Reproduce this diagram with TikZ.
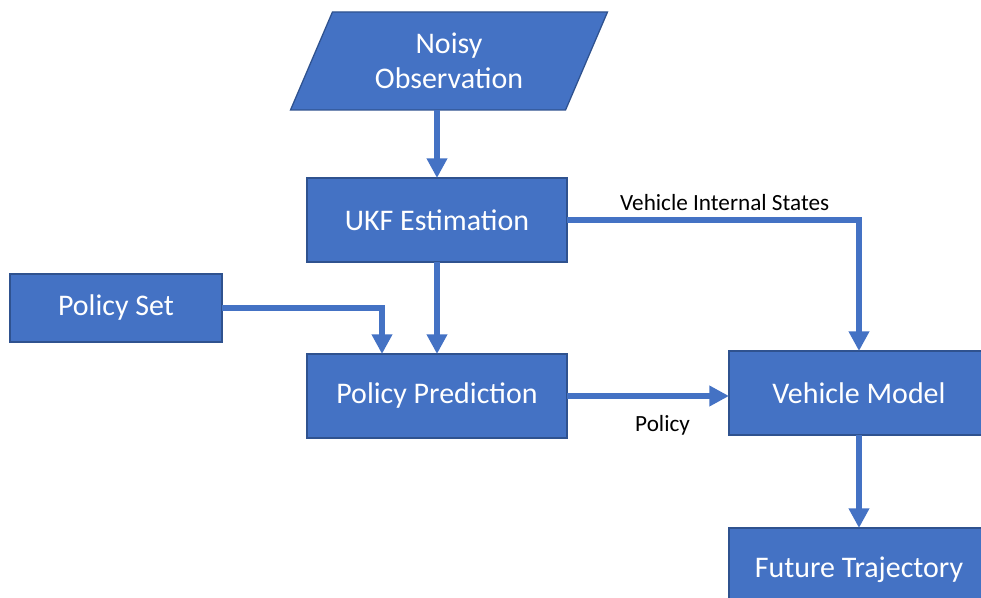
\documentclass[tikz,border=0pt]{standalone}
\usepackage{fontspec}
\setmainfont{Carlito}
\usepackage{tikz}
\usetikzlibrary{positioning}
\usetikzlibrary{calc}
\usetikzlibrary{arrows.meta}
\usetikzlibrary{shapes.geometric}
\usepackage{xcolor}
\definecolor{boxblue}{HTML}{4472C4}
\definecolor{boxedge}{HTML}{2F528F}

\tikzset{
  block/.style={draw=boxedge, line width=0.9pt, fill=boxblue, text=white,
    minimum width=6.5cm, minimum height=2.1cm, outer sep=0pt,
    font=\fontsize{21.3}{25}\selectfont},
  flow/.style={->, draw=boxblue, line width=4.3pt},
  lbl/.style={text=black, font=\fontsize{16.5}{20}\selectfont}
}

\begin{document}
\begin{tikzpicture}[node distance=4.4cm, on grid, auto,
    >={Triangle[width=14pt,length=14pt]}]
        \useasboundingbox (-10.925,5.5) rectangle (13.6,-9.45);

        \node[block] (ukf) {UKF Estimation};
        \node[block] (pred) [below=of ukf] {Policy Prediction};
        \node[block, trapezium, trapezium left angle=57.3, trapezium right angle=122.7,
          trapezium stretches body, minimum width=7.925cm, minimum height=2.45cm,
          align=center] (obs) [above=3.975cm of ukf, xshift=0.3cm] {Noisy\\Observation};

        \node[block, minimum width=5.3cm, minimum height=1.7cm] (pset) [left=8.025cm of pred, yshift=2.2cm] {Policy Set};
        \node[block] (vmodel) [right=10.55cm of pred, yshift=0.075cm] {Vehicle Model};
        \node[block] (future) [below=4.425cm of vmodel] {Future Trajectory};

        \draw[flow] (ukf |- obs.south) -- (ukf.north);
        \draw[flow] (ukf.south) -- (pred.north);
        \draw[flow] (pset.east) -| ($(pred.north)+(-1.375,0)$);
        \draw[flow] (ukf.east) -| node[lbl, pos=0.27, above=0.05cm] {Vehicle Internal States} (vmodel.north);
        \draw[flow] (pred.east) -- node[lbl, pos=0.59, below=0.3cm] {Policy} (pred.east -| vmodel.west);
        \draw[flow] (vmodel.south) -- (future.north);

      \end{tikzpicture}
\end{document}
